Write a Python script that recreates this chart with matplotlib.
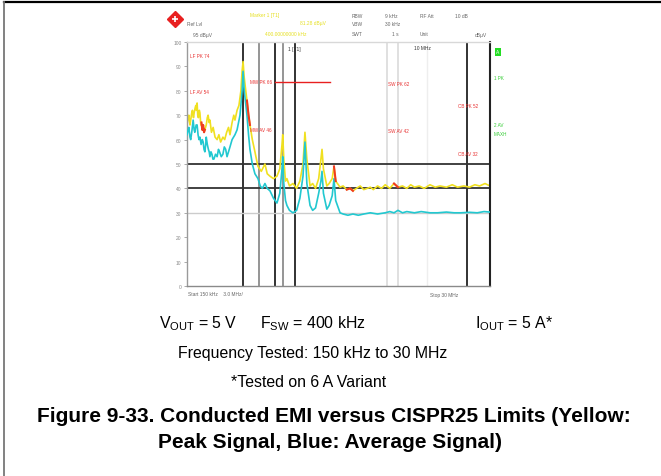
import numpy as np
import matplotlib
matplotlib.use("Agg")
import matplotlib.pyplot as plt
from matplotlib.lines import Line2D

plt.rcParams['font.family'] = ['Liberation Sans', 'DejaVu Sans']
plt.rcParams['mathtext.fontset'] = 'custom'
plt.rcParams['mathtext.rm'] = 'Liberation Sans'
plt.rcParams['mathtext.it'] = 'Liberation Sans'
plt.rcParams['mathtext.bf'] = 'Liberation Sans:bold'

# ---------------- data ----------------
peak_freq_mhz = [0.150, 0.153, 0.155, 0.158, 0.160, 0.163, 0.165, 0.168, 0.170, 0.173,
                 0.175, 0.177, 0.179, 0.181, 0.183, 0.186, 0.188, 0.191, 0.193, 0.196,
                 0.199, 0.202, 0.205, 0.210, 0.214, 0.217, 0.221, 0.224, 0.230, 0.237,
                 0.245, 0.254, 0.262, 0.270, 0.281, 0.290, 0.300, 0.310, 0.318, 0.330,
                 0.340, 0.347, 0.360, 0.372, 0.385, 0.393, 0.400, 0.407, 0.415, 0.428,
                 0.440, 0.451, 0.470, 0.492, 0.505, 0.519, 0.550, 0.586, 0.610, 0.640,
                 0.680, 0.723, 0.760, 0.790, 0.800, 0.815, 0.840, 0.861, 0.900, 0.957,
                 1.02, 1.08, 1.14, 1.18, 1.22, 1.29, 1.35, 1.42, 1.50, 1.56,
                 1.59, 1.63, 1.73, 1.80, 1.90, 1.96, 2.02, 2.18, 2.30, 2.45,
                 2.60, 2.73, 2.90, 3.1, 3.3, 3.5, 3.7, 3.9, 4.2, 4.5,
                 4.8, 5.2, 5.6, 6.0, 6.5, 7.0, 7.5, 8.0, 8.7, 9.5,
                 10.5, 11.5, 12.5, 14.0, 15.5, 17.0, 19.0, 21.0, 23.0, 25.0,
                 27.5, 30.0]
peak_dbuv = [66, 69, 70, 66, 68, 71, 72, 69, 71, 73,
             74, 72, 75, 70, 69, 72, 71, 66, 67, 64,
             66, 63, 64, 66, 69, 70, 67, 68, 63, 65,
             61, 60, 62, 59, 61, 60, 63, 65, 62, 67,
             70, 68, 72, 74, 80, 88, 92, 86, 82, 76,
             70, 66, 60, 55, 52, 49, 47, 50, 46, 45,
             44, 45, 48, 58, 62, 52, 43, 44, 41, 42,
             40, 43, 50, 63, 52, 41, 42, 40, 44, 52,
             56, 48, 41, 42, 44, 49, 43, 40.5, 41, 39.5,
             40, 39, 40, 41, 39.5, 40, 40.5, 39.5, 41, 40,
             41.5, 40, 42, 40.5, 41, 40, 41.5, 40.5, 41, 40,
             41.5, 40.5, 41, 40.5, 41.5, 40.5, 41, 40.5, 41.5, 41,
             42, 41]

avg_freq_mhz = [0.150, 0.153, 0.155, 0.158, 0.160, 0.163, 0.167, 0.170, 0.172, 0.176,
                0.179, 0.182, 0.185, 0.188, 0.192, 0.196, 0.199, 0.202, 0.205, 0.208,
                0.210, 0.214, 0.218, 0.221, 0.224, 0.228, 0.232, 0.236, 0.240, 0.247,
                0.254, 0.260, 0.265, 0.273, 0.281, 0.288, 0.295, 0.302, 0.310, 0.318,
                0.330, 0.347, 0.360, 0.379, 0.393, 0.400, 0.408, 0.420, 0.428,
                0.440, 0.451, 0.470, 0.492, 0.519, 0.540, 0.560, 0.586, 0.610, 0.640,
                0.680, 0.723, 0.760, 0.790, 0.800, 0.815, 0.840, 0.861, 0.900, 0.957,
                1.02, 1.08, 1.14, 1.18, 1.22, 1.29, 1.35, 1.42, 1.50, 1.56,
                1.59, 1.63, 1.73, 1.80, 1.90, 1.96, 2.02, 2.18, 2.30, 2.50,
                2.73, 3.0, 3.3, 3.7, 4.2, 4.8, 5.2, 5.6, 6.0, 6.5,
                7.0, 8.0, 9.0, 10.5, 12.0, 14.0, 16.0, 18.0, 21.0, 24.0,
                27.0, 30.0]
avg_dbuv = [62, 64, 65, 61, 60, 63, 68, 64, 63, 66,
            66, 62, 60, 61, 58, 60, 59, 56, 55, 58,
            61, 58, 56, 55, 53, 55, 54, 52, 52, 54,
            53, 56, 55, 53, 54, 57, 56, 53, 55, 57,
            60, 62, 64, 70, 80, 88, 80, 74, 70,
            62, 56, 50, 46, 44, 41, 40, 42, 40, 39,
            36, 34, 38, 48, 53, 42, 35, 33, 31, 30,
            31, 36, 45, 59, 42, 33, 31, 32, 38, 43,
            47, 38, 31.5, 33, 37, 44, 35, 30, 29.5, 29,
            29.5, 29, 29.5, 30, 29.5, 30, 30.5, 30, 31, 30,
            30.5, 30, 30.5, 30, 30, 30.3, 30, 30, 30.2, 30,
            30.5, 30.3]

# frequency ranges where the peak trace is drawn red
red_ranges_mhz = [(0.193, 0.205), (0.428, 0.451), (0.88, 0.93), (1.93, 2.02),
                  (2.45, 2.73), (5.6, 6.0)]

# marker / band lines (MHz)
vline_black_mhz = [0.40, 0.70, 1.0, 20.0]
vline_gray_mhz = [0.53, 0.80]
vline_light_mhz = [4.95, 6.0]
vline_faint_mhz = [10.0]
# horizontal display lines (dBuV)
hline_black_dbuv = [50, 40]
hline_light_dbuv = [30]
# red limit line
limit_start_mhz, limit_stop_mhz, limit_level = 0.70, 1.83, 83.5

y_ticks = [0, 10, 20, 30, 40, 50, 60, 70, 80, 90, 100]

# ---------------- figure ----------------
W, H = 661, 477
fig = plt.figure(figsize=(W / 100, H / 100), dpi=100)


def fx(px):
    return px / W


def fy(py):
    return 1 - py / H


ax = fig.add_axes([fx(187), fy(287), (490 - 187) / W, (287 - 43) / H])
ax.set_xscale('log')
ax.set_xlim(0.15, 30)
ax.set_ylim(0, 100)
ax.set_yticks(y_ticks)
ax.set_yticklabels([str(v) for v in y_ticks], fontsize=3.5, color='#888888')
ax.tick_params(axis='y', length=2, width=0.5, color='#888888', pad=2)
ax.set_xticks([])
ax.set_xticks([], minor=True)
for side, col, lw in [('left', '#9a9a9a', 1.0), ('top', '#d8d8d8', 1.0),
                      ('bottom', '#8a8a8a', 1.0), ('right', '#222222', 1.5)]:
    ax.spines[side].set_color(col)
    ax.spines[side].set_linewidth(lw)

for f in vline_faint_mhz:
    ax.axvline(f, color='#eeeeee', lw=1.0, zorder=1)
for f in vline_light_mhz:
    ax.axvline(f, color='#dddddd', lw=1.3, zorder=1)
for f in vline_gray_mhz:
    ax.axvline(f, color='#8c8c8c', lw=1.3, zorder=1)
for f in vline_black_mhz:
    ax.axvline(f, color='#222222', lw=1.3, zorder=1)
for v in hline_light_dbuv:
    ax.axhline(v, color='#cccccc', lw=1.0, zorder=1)
for v in hline_black_dbuv:
    ax.axhline(v, color='#333333', lw=1.3, zorder=1)

ax.plot(avg_freq_mhz, avg_dbuv, color='#22c8d0', lw=1.2, zorder=3)
ax.plot(peak_freq_mhz, peak_dbuv, color='#f0e020', lw=1.2, zorder=2)
pf = np.array(peak_freq_mhz)
pv = np.array(peak_dbuv, dtype=float)
for lo, hi in red_ranges_mhz:
    m = (pf >= lo) & (pf <= hi)
    ax.plot(pf[m], pv[m], color='#f03a20', lw=1.5, zorder=4)

ax.plot([limit_start_mhz, limit_stop_mhz], [limit_level, limit_level], color='#e82020', lw=1.0, zorder=4)

# red labels inside the plot
red_lbl = dict(fontsize=3.3, color='#e83030', va='center', ha='left')
fig.text(fx(190), fy(56), 'LF PK 74', **red_lbl)
fig.text(fx(190), fy(92), 'LF AV 54', **red_lbl)
fig.text(fx(250), fy(83), 'MW PK 66', **red_lbl)
fig.text(fx(250), fy(130), 'MW AV 46', **red_lbl)
fig.text(fx(388), fy(85), 'SW PK 62', **red_lbl)
fig.text(fx(388), fy(132), 'SW AV 42', **red_lbl)
fig.text(fx(458), fy(106), 'CB PK 52', **red_lbl)
fig.text(fx(458), fy(155), 'CB AV 32', **red_lbl)
fig.text(fx(288), fy(49), '1 [T1]', fontsize=3.5, color='#333333', va='center', ha='left')
fig.text(fx(414), fy(49), '10 MHz', fontsize=3.5, color='#333333', va='center', ha='left')

# right side green annotations
fig.text(fx(498), fy(53), 'A', fontsize=3.5, color='white', ha='center', va='center',
         bbox=dict(boxstyle='square,pad=0.25', fc='#22dd22', ec='none'))
gl = dict(fontsize=3.3, color='#33cc33', va='center', ha='left')
fig.text(fx(494), fy(78), '1 PK', **gl)
fig.text(fx(494), fy(126), '2 AV', **gl)
fig.text(fx(494), fy(134), 'MAXH', **gl)

# header
gray = dict(fontsize=3.5, color='#666666', va='center', ha='left')
yel = dict(fontsize=3.5, color='#e6e020', va='center', ha='left')
fig.add_artist(Line2D([fx(175)], [fy(20)], marker='D', markersize=8, color='#e82020',
                      markeredgecolor='#e82020', transform=fig.transFigure))
fig.add_artist(Line2D([fx(175)], [fy(20)], marker='+', markersize=5, color='white',
                      markeredgewidth=1.2, transform=fig.transFigure))
fig.text(fx(187), fy(24), 'Ref Lvl', **gray)
fig.text(fx(193), fy(35), '95 dBµV', **gray)
fig.text(fx(250), fy(16), 'Marker 1 [T1]', **yel)
fig.text(fx(300), fy(24), '81.28 dBµV', **yel)
fig.text(fx(265), fy(35), '400.00000000 kHz', **yel)
fig.text(fx(352), fy(16), 'RBW', **gray)
fig.text(fx(385), fy(16), '9 kHz', **gray)
fig.text(fx(420), fy(16), 'RF Att', **gray)
fig.text(fx(455), fy(16), '10 dB', **gray)
fig.text(fx(352), fy(24), 'VBW', **gray)
fig.text(fx(385), fy(24), '30 kHz', **gray)
fig.text(fx(352), fy(35), 'SWT', **gray)
fig.text(fx(392), fy(35), '1 s', **gray)
fig.text(fx(420), fy(35), 'Unit', **gray)
fig.text(fx(475), fy(35), 'dBµV', **gray)

# bottom axis labels
fig.text(fx(188), fy(295), 'Start 150 kHz    3.0 MHz/', **gray)
fig.text(fx(430), fy(295), 'Stop 30 MHz', **gray)

# frame lines
fig.add_artist(Line2D([fx(4), 1.0], [fy(3), fy(3)], color='black', lw=1.6, transform=fig.transFigure))
fig.add_artist(Line2D([fx(4), fx(4)], [fy(3), 0.0], color='#777777', lw=1.3, transform=fig.transFigure))

# captions
cap = dict(fontsize=11.4, color='black', va='center')
fig.text(fx(159), fy(324), r'V$_{\mathrm{OUT}}$ = 5 V', ha='left', **cap)
fig.text(fx(260), fy(324), r'F$_{\mathrm{SW}}$ = 400 kHz', ha='left', **cap)
fig.text(fx(475), fy(324), r'I$_{\mathrm{OUT}}$ = 5 A*', ha='left', **cap)
fig.text(fx(313), fy(354), 'Frequency Tested: 150 kHz to 30 MHz', ha='center', **cap)
fig.text(fx(309), fy(383), '*Tested on 6 A Variant', ha='center', **cap)
fig.text(fx(334), fy(417), 'Figure 9-33. Conducted EMI versus CISPR25 Limits (Yellow:',
         ha='center', va='center', fontsize=15, fontweight='bold')
fig.text(fx(330), fy(443), 'Peak Signal, Blue: Average Signal)',
         ha='center', va='center', fontsize=15, fontweight='bold')

fig.savefig('out.png', dpi=100)
